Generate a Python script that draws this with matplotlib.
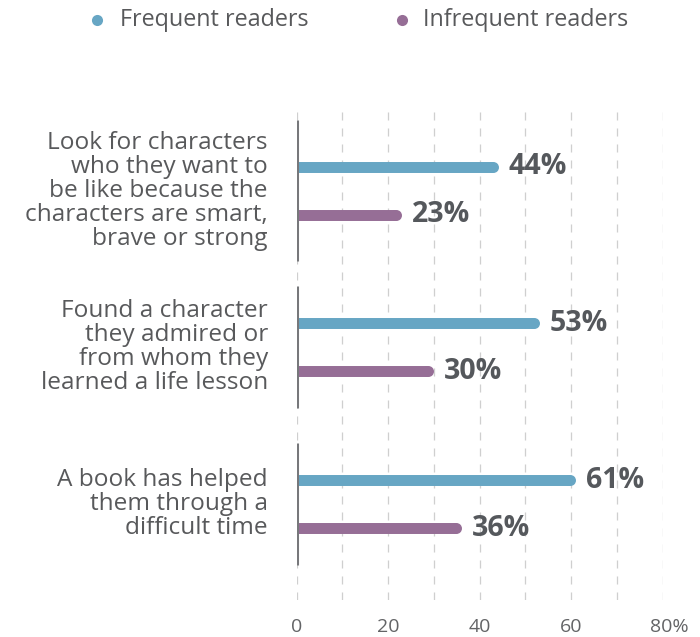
import matplotlib
matplotlib.use("Agg")
import matplotlib.pyplot as plt
import matplotlib.transforms as mtransforms

categories = [
    "Look for characters\nwho they want to\nbe like because the\ncharacters are smart,\nbrave or strong",
    "Found a character\nthey admired or\nfrom whom they\nlearned a life lesson",
    "A book has helped\nthem through a\ndifficult time",
]
series_names = ["Frequent readers", "Infrequent readers"]
frequent = [44, 53, 61]
infrequent = [23, 30, 36]
xticks = [0, 20, 40, 60, 80]
xtick_labels = ["0", "20", "40", "60", "80%"]

BLUE, PURPLE = "#67A6C4", "#966E96"
TEXT = "#58595b"
VAL = "#55585c"
FONT = "Open Sans"

plt.rcParams["font.family"] = [FONT, "DejaVu Sans"]

fig = plt.figure(figsize=(7.0, 6.37), dpi=100)
ax = fig.add_axes([296.7 / 700, 1 - 600 / 637, 366 / 700, 496 / 637])
ax.set_xlim(0, 80)
ax.set_ylim(2.612, -0.552)
for s in ax.spines.values():
    s.set_visible(False)

# dashed grid
for gx in range(0, 81, 10):
    ax.axvline(gx, color="#cfcfcf", lw=0.9, ls=(0, (6.4, 6.4)), zorder=0)

bar_lw = 7.9
off = 0.153
r = (bar_lw / 72 * 100 / 2) / (366 / 80)  # cap radius in data units
sep_half = [0.45, 0.39, 0.39]

for i, (cat, f, inf) in enumerate(zip(categories, frequent, infrequent)):
    for val, y, col in [(f, i - off, BLUE), (inf, i + off, PURPLE)]:
        ax.plot([0, val - r], [y, y], color=col, lw=bar_lw,
                solid_capstyle="butt", zorder=2)
        ax.plot([val - r], [y], "o", color=col, ms=bar_lw, mew=0, zorder=2)
        ax.text(val + 2.2, y, f"{val}%", va="center", ha="left",
                fontsize=20.5, fontweight="bold", color=VAL)
    ax.plot([0, 0], [i - sep_half[i], i + sep_half[i]], color="#77787b",
            lw=2.2, solid_capstyle="butt", zorder=3)
    ax.text(-6.3, i, cat, ha="right", va="center", fontsize=17.6,
            color=TEXT, linespacing=1.0)

ax.set_yticks([])
ax.set_xticks(xticks)
ax.set_xticklabels(xtick_labels, fontsize=14, color="#636466")
ax.tick_params(axis="x", length=0, pad=13)
last = ax.get_xticklabels()[-1]
last.set_transform(last.get_transform() +
                   mtransforms.ScaledTranslation(7 / 100, 0, fig.dpi_scale_trans))

# legend
for name, col, dx, tx in [(series_names[0], BLUE, 97, 120),
                          (series_names[1], PURPLE, 402, 423)]:
    fig.lines.append(plt.Line2D([dx / 700], [1 - 20 / 637], marker="o",
                                color=col, ms=8, mew=0,
                                transform=fig.transFigure))
    fig.text(tx / 700, 1 - 20 / 637, name, ha="left", va="center",
             fontsize=16.8, color=TEXT)

fig.savefig("out.png", dpi=100)
